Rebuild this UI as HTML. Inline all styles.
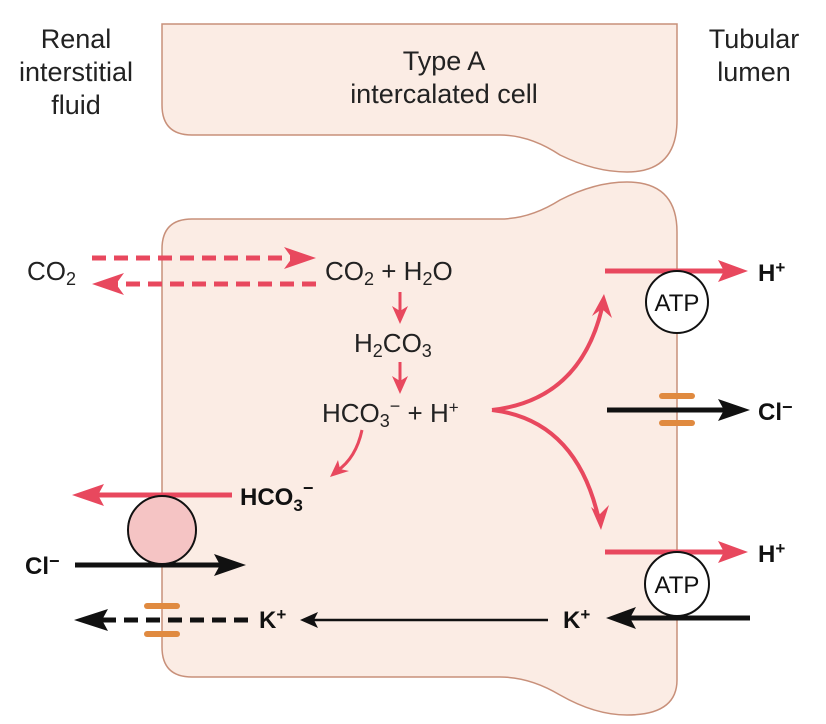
<!DOCTYPE html>
<html><head><meta charset="utf-8"><style>
html,body{margin:0;padding:0;background:#fff;}
svg{display:block;font-family:"Liberation Sans",Arial,sans-serif;}
</style></head><body>
<svg width="826" height="724" viewBox="0 0 826 724">
<!-- top cell -->
<path d="M162 24 L677 24 L677 120 Q677 172 627 172 Q595 172 560 155 Q530 135 500 135 L192 135 Q162 135 162 105 Z" fill="#fbece4" stroke="#c8907a" stroke-width="1.5"/>
<!-- bottom cell -->
<path d="M162 249 Q162 219 192 219 L500 219 Q530 219 560 200 Q595 182 627 182 Q677 182 677 232 L677 680 Q677 715 627 715 Q595 715 560 695 Q530 677 500 677 L192 677 Q162 677 162 647 Z" fill="#fbece4" stroke="#c8907a" stroke-width="1.5"/>
<g fill="#222" font-size="27" text-anchor="middle">
<text x="76" y="48">Renal</text><text x="76" y="81">interstitial</text><text x="76" y="114">fluid</text>
<text x="444" y="70">Type A</text><text x="444" y="103">intercalated cell</text>
<text x="754" y="48">Tubular</text><text x="754" y="81">lumen</text>
</g>
<g fill="#222" font-size="26">
<text x="27" y="280">CO<tspan font-size="18" dy="5">2</tspan></text>
<text x="325" y="280">CO<tspan font-size="18" dy="5">2</tspan><tspan dy="-5"> + H</tspan><tspan font-size="18" dy="5">2</tspan><tspan dy="-5">O</tspan></text>
<text x="354" y="352">H<tspan font-size="18" dy="5">2</tspan><tspan dy="-5">CO</tspan><tspan font-size="18" dy="5">3</tspan></text>
<text x="322" y="422">HCO<tspan font-size="18" dy="5">3</tspan><tspan dy="-15" font-size="18">−</tspan><tspan dy="10"> + H</tspan><tspan dy="-9" font-size="17">+</tspan></text>
</g>
<g fill="#111" font-size="24" font-weight="bold">
<text x="240" y="505">HCO<tspan font-size="17" dy="6">3</tspan><tspan dy="-17" font-size="18">−</tspan></text>
<text x="25" y="574">Cl<tspan font-size="18" dy="-7">−</tspan></text>
<text x="259" y="628">K<tspan font-size="17" dy="-8">+</tspan></text>
<text x="563" y="628">K<tspan font-size="17" dy="-8">+</tspan></text>
<text x="758" y="281">H<tspan font-size="17" dy="-8">+</tspan></text>
<text x="758" y="420">Cl<tspan font-size="18" dy="-7">−</tspan></text>
<text x="758" y="562">H<tspan font-size="17" dy="-8">+</tspan></text>
</g>
<!-- dashed CO2 arrows -->
<g stroke="#e8485e" stroke-width="5" fill="none" stroke-dasharray="14 8">
<line x1="92" y1="258" x2="300" y2="258"/>
<line x1="316" y1="284" x2="108" y2="284"/>
</g>
<g fill="#e8485e">
<path d="M316 258 L284 247 L292 258 L284 269 Z"/>
<path d="M92 284 L124 273 L116 284 L124 295 Z"/>
</g>
<!-- small reaction arrows -->
<g stroke="#e8485e" stroke-width="3" fill="none">
<line x1="400" y1="292" x2="400" y2="314"/>
<line x1="400" y1="362" x2="400" y2="384"/>
<path d="M362 430 Q356 458 337 471"/>
<path d="M492 410 Q580 400 602 308" stroke-width="4"/>
<path d="M492 410 Q575 420 598 516" stroke-width="4"/>
</g>
<g fill="#e8485e">
<path d="M400 324 L392 306 L400 311 L408 306 Z"/>
<path d="M400 394 L392 376 L400 381 L408 376 Z"/>
<path d="M330 477 L338 460 L340 469 L349 471 Z"/>
<path d="M604 294 L592 316 L602 309 L612 318 Z"/>
<path d="M601 530 L591 507 L600 514 L609 505 Z"/>
</g>
<!-- H+ pumps -->
<g stroke="#e8485e" stroke-width="5">
<line x1="605" y1="271" x2="735" y2="271"/>
<line x1="605" y1="552" x2="735" y2="552"/>
<line x1="232" y1="495" x2="88" y2="495"/>
</g>
<g fill="#e8485e">
<path d="M748 271 L718 260 L724 271 L718 282 Z"/>
<path d="M748 552 L718 541 L724 552 L718 563 Z"/>
<path d="M72 495 L104 484 L98 495 L104 506 Z"/>
</g>
<g stroke="#111" stroke-width="2" fill="#fff">
<circle cx="677" cy="302" r="31"/>
<circle cx="677" cy="584" r="32"/>
</g>
<g font-size="24" fill="#111" text-anchor="middle"><text x="677" y="311">ATP</text><text x="677" y="593">ATP</text></g>
<!-- black arrows -->
<g stroke="#111" stroke-width="5" fill="none">
<line x1="607" y1="410" x2="735" y2="410"/>
<line x1="75" y1="565" x2="230" y2="565"/>
<line x1="750" y1="618" x2="622" y2="618"/>
<line x1="548" y1="620" x2="314" y2="620" stroke-width="2.5"/>
<line x1="248" y1="620" x2="90" y2="620" stroke-dasharray="14 8"/>
</g>
<g fill="#111">
<path d="M750 410 L718 399 L724 410 L718 421 Z"/>
<path d="M246 565 L214 554 L220 565 L214 576 Z"/>
<path d="M606 618 L636 607 L630 618 L636 629 Z"/>
<path d="M300 620 L318 612 L314 620 L318 628 Z"/>
<path d="M74 620 L108 609 L102 620 L108 631 Z"/>
</g>
<circle cx="162" cy="530" r="34" fill="#f5c4c4" stroke="#111" stroke-width="2"/>
<!-- channels -->
<g stroke="#e08a40" stroke-width="6" stroke-linecap="round">
<line x1="662" y1="396" x2="692" y2="396"/>
<line x1="662" y1="423" x2="692" y2="423"/>
<line x1="147" y1="606" x2="177" y2="606"/>
<line x1="147" y1="634" x2="177" y2="634"/>
</g>
</svg>
</body></html>
